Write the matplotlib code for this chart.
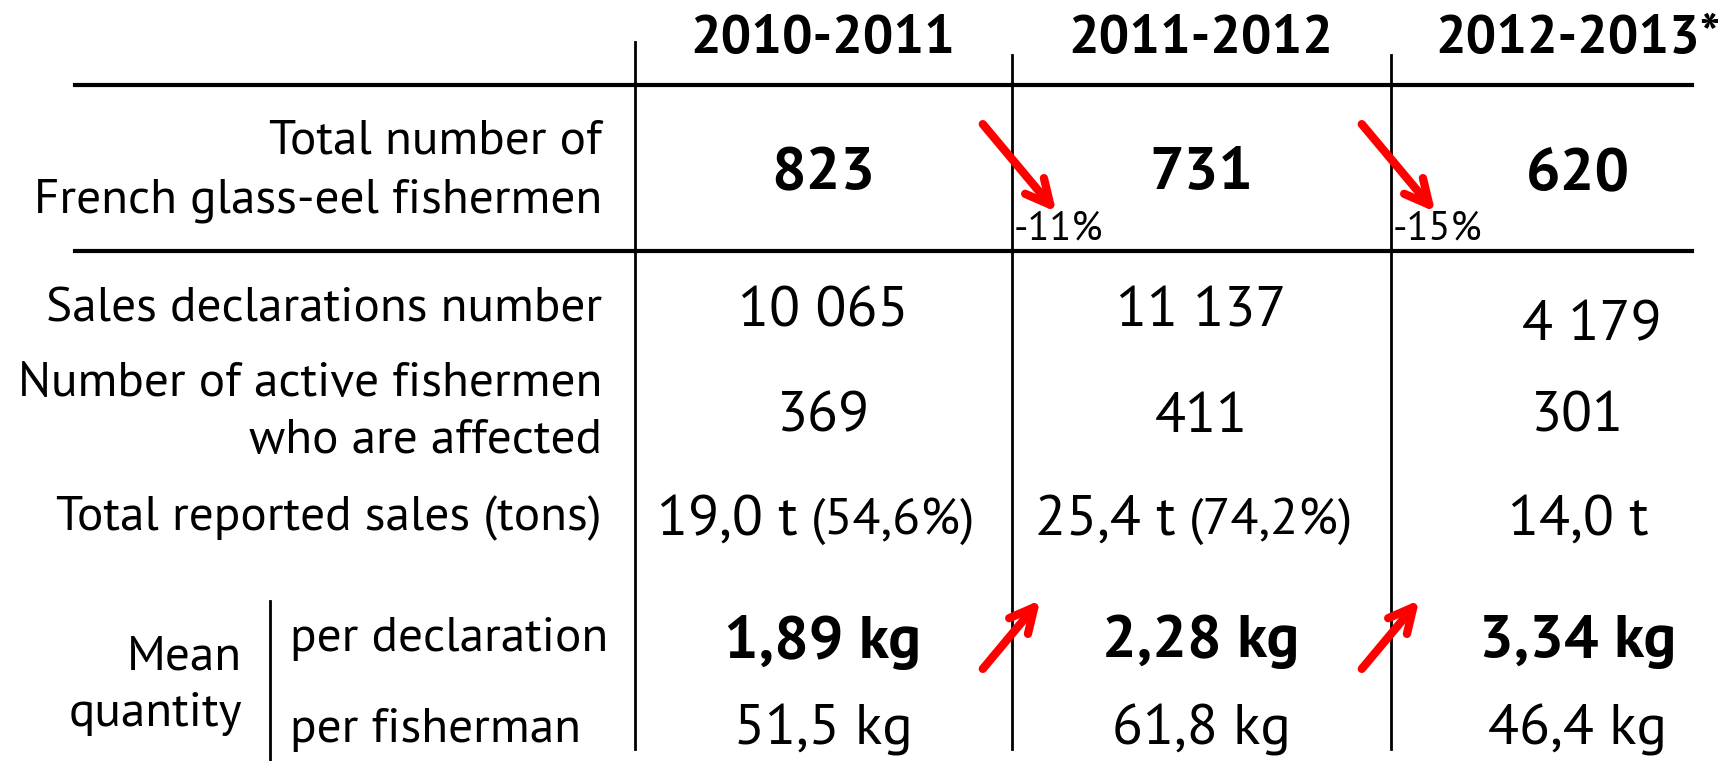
import matplotlib
matplotlib.use("Agg")
import matplotlib.pyplot as plt

# table content
seasons = ['2010-2011', '2011-2012', '2012-2013*']
total_fishermen = ['823', '731', '620']
change_pct = ['-11%', '-15%']
sales_decl = ['10 065', '11 137', '4 179']
active_fishermen = ['369', '411', '301']
sales_tons = ['19,0 t', '25,4 t', '14,0 t']
sales_share = ['(54,6%)', '(74,2%)', '']
mean_per_decl = ['1,89 kg', '2,28 kg', '3,34 kg']
mean_per_fisher = ['51,5 kg', '61,8 kg', '46,4 kg']

plt.rcParams['font.family'] = ['PT Sans', 'DejaVu Sans']

W, H = 1728, 761
fig = plt.figure(figsize=(W / 100, H / 100), dpi=100)
ax = fig.add_axes([0, 0, 1, 1])
ax.set_xlim(0, W)
ax.set_ylim(H, 0)
ax.axis('off')

col_x = [823, 1201, 1578]
vlines_x = [635, 1012, 1391]
label_right = 602

LBL = 35.5
VAL = 41
BVAL = 44
HDR = 39

arrow = dict(arrowstyle='->', color='red', lw=6, mutation_scale=44)

# grid lines
ax.plot([75, 1692], [85, 85], color='black', lw=3)
ax.plot([75, 1692], [251, 251], color='black', lw=3)
ax.plot([vlines_x[0]] * 2, [42, 749], color='black', lw=2)
for x in vlines_x[1:]:
    ax.plot([x, x], [55, 749], color='black', lw=2)
ax.plot([270, 270], [601, 761], color='black', lw=2)

# headers
for x, s in zip(col_x, seasons):
    ax.text(x, 39, s, ha='center', va='center', fontsize=HDR, fontweight='bold')

# row: total number of fishermen
ax.text(label_right, 141, 'Total number of', ha='right', va='center', fontsize=LBL)
ax.text(label_right, 201, 'French glass-eel fishermen', ha='right', va='center', fontsize=LBL)
for x, s in zip(col_x, total_fishermen):
    ax.text(x, 174, s, ha='center', va='center', fontsize=BVAL, fontweight='bold')

# decrease arrows + %
for x, s in zip(vlines_x[1:], change_pct):
    ax.annotate('', xy=(x + 46, 214), xytext=(x - 31, 122), arrowprops=arrow)
    ax.text(x + 2, 229, s, ha='left', va='center', fontsize=29)

# sales declarations
ax.text(label_right, 309, 'Sales declarations number', ha='right', va='center', fontsize=LBL)
yvals = [312, 312, 326]
xoff = [0, 0, 14]
for x, dx, y, s in zip(col_x, xoff, yvals, sales_decl):
    ax.text(x + dx, y, s, ha='center', va='center', fontsize=VAL)

# active fishermen
ax.text(label_right, 384, 'Number of active fishermen', ha='right', va='center', fontsize=LBL)
ax.text(label_right, 441, 'who are affected', ha='right', va='center', fontsize=LBL)
for x, s in zip(col_x, active_fishermen):
    ax.text(x, 417, s, ha='center', va='center', fontsize=VAL)

# total reported sales
ax.text(label_right, 518, 'Total reported sales (tons)', ha='right', va='center', fontsize=LBL)
for x, t, p in zip(col_x, sales_tons, sales_share):
    if p:
        ax.text(x - 25, 520, t, ha='right', va='center', fontsize=VAL)
        ax.text(x - 12, 521, p, ha='left', va='center', fontsize=37)
    else:
        ax.text(x, 520, t, ha='center', va='center', fontsize=VAL)

# mean quantity
ax.text(242, 658, 'Mean', ha='right', va='center', fontsize=LBL)
ax.text(242, 714, 'quantity', ha='right', va='center', fontsize=LBL)
ax.text(290, 639, 'per declaration', ha='left', va='center', fontsize=LBL)
ax.text(290, 730, 'per fisherman', ha='left', va='center', fontsize=LBL)
for x, s in zip(col_x, mean_per_decl):
    ax.text(x, 642, s, ha='center', va='center', fontsize=BVAL, fontweight='bold')
for x, s in zip(col_x, mean_per_fisher):
    ax.text(x, 730, s, ha='center', va='center', fontsize=VAL)

# increase arrows
for x in vlines_x[1:]:
    ax.annotate('', xy=(x + 30, 598), xytext=(x - 31, 671), arrowprops=arrow)

fig.savefig('out.png', dpi=100)
